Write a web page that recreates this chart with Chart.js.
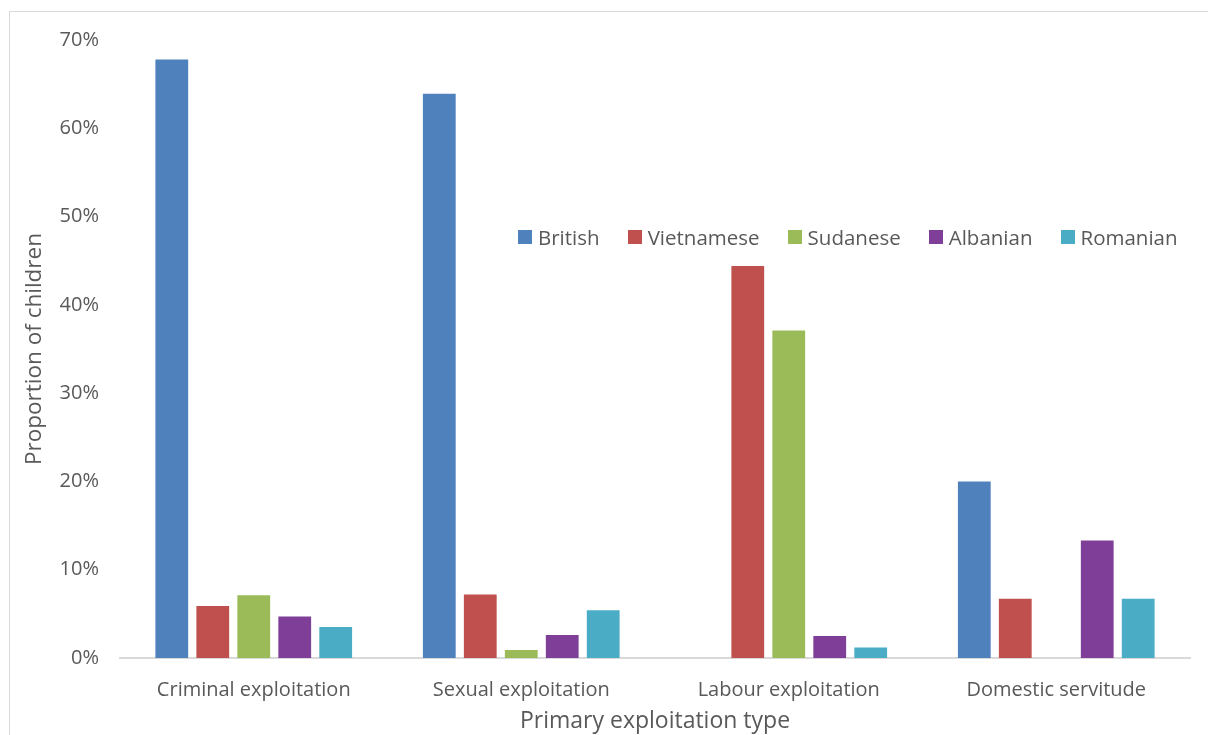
<!DOCTYPE html>
<html>
<head>
<meta charset="utf-8">
<script src="https://cdn.jsdelivr.net/npm/chart.js@4.4.1/dist/chart.umd.min.js"></script>
<style>
  html, body { margin: 0; padding: 0; background: #fff; overflow: hidden; }
  #wrap { position: relative; width: 1208px; height: 735px; }
  #frame { position: absolute; left: 9px; top: 11px; width: 1220px; height: 760px; border: 1px solid #d9d9d9; }
  #wrap canvas { position: absolute; left: 0; top: 0; }
  #legend { position: absolute; left: 518px; top: 223px; display: flex; align-items: center;
            font-family: "Open Sans", sans-serif; font-size: 20.5px; color: #595959; }
  #legend .item { display: flex; align-items: center; margin-right: 28px; }
  #legend .box { width: 14px; height: 14px; margin-right: 6px; }
</style>
</head>
<body>
<div id="wrap">
  <div id="frame"></div>
  <canvas id="chart" width="1208" height="735"></canvas>
  <div id="legend"></div>
</div>
<script>
const categories = ['Criminal exploitation', 'Sexual exploitation', 'Labour exploitation', 'Domestic servitude'];
const british    = [67.8, 63.9, 0, 20.0];
const vietnamese = [5.9, 7.2, 44.4, 6.7];
const sudanese   = [7.1, 0.9, 37.1, 0];
const albanian   = [4.7, 2.6, 2.5, 13.3];
const romanian   = [3.5, 5.4, 1.2, 6.7];

const seriesNames = ['British', 'Vietnamese', 'Sudanese', 'Albanian', 'Romanian'];
const seriesColors = ['#4f81bd', '#c0504d', '#9bbb59', '#7f3f98', '#4bacc6'];
const seriesData = [british, vietnamese, sudanese, albanian, romanian];

const FONT = '"Open Sans", sans-serif';
const GREY = '#595959';

const datasets = seriesNames.map((name, i) => ({
  label: name,
  data: seriesData[i],
  backgroundColor: seriesColors[i],
  barPercentage: 0.8,
  categoryPercentage: 0.766
}));

new Chart(document.getElementById('chart'), {
  type: 'bar',
  data: { labels: categories, datasets },
  options: {
    responsive: false,
    animation: false,
    layout: { padding: { top: 40, right: 18, left: 0, bottom: 0 } },
    plugins: { legend: { display: false }, tooltip: { enabled: false } },
    scales: {
      x: {
        grid: { display: false },
        border: { display: true, color: '#d9d9d9', width: 2 },
        ticks: { color: GREY, font: { family: FONT, size: 20 }, padding: 12 },
        title: { display: true, text: 'Primary exploitation type', color: GREY,
                 font: { family: FONT, size: 23 }, padding: { top: 0, bottom: 0 } },
        afterFit: (s) => { s.height = 77; }
      },
      y: {
        min: 0, max: 70,
        grid: { display: false },
        border: { display: false },
        ticks: { stepSize: 10, color: GREY, font: { family: FONT, size: 20 }, padding: 13,
                 callback: (v) => v + '%' },
        title: { display: true, text: 'Proportion of children', color: GREY,
                 font: { family: FONT, size: 22.5 }, padding: { top: 21, bottom: 0 } },
        afterFit: (s) => { s.width = 120; }
      }
    }
  }
});

// legend sits inside the plot, so build it as html
const legendEl = document.getElementById('legend');
seriesNames.forEach((name, i) => {
  const item = document.createElement('div');
  item.className = 'item';
  item.innerHTML = '<span class="box" style="background:' + seriesColors[i] + '"></span><span>' + name + '</span>';
  legendEl.appendChild(item);
});
</script>
</body>
</html>
